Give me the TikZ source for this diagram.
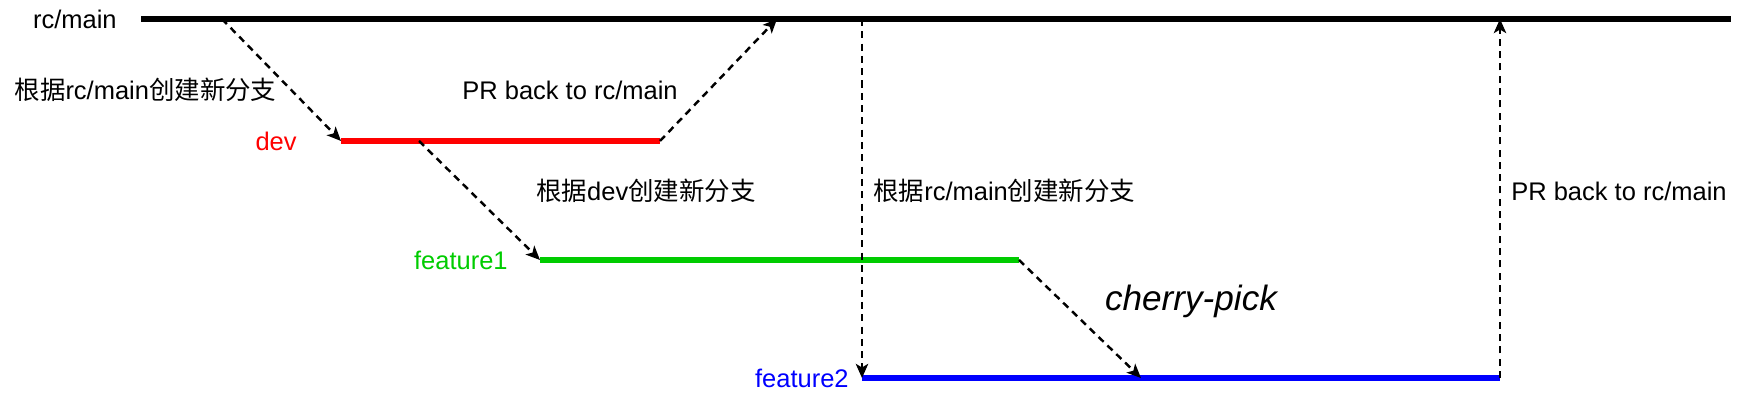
\documentclass[tikz,border=0pt]{standalone}
\usepackage{fontspec}
\setmainfont{Liberation Sans}
\newfontfamily\cjk{Noto Sans CJK SC}
\usetikzlibrary{arrows.meta, positioning}

\tikzset{
  branch/.style={line width=3pt},
  fork/.style={-{Stealth[length=8pt,width=7pt,inset=2pt]}, dash pattern=on 4pt off 3pt, line width=1.4pt},
  lbl/.style={font=\fontsize{14.5}{17}\selectfont, inner sep=0pt},
}

\begin{document}
\begin{tikzpicture}[>=Latex]

  \useasboundingbox (0,0) rectangle (34.8,8);

  % branch ends
  \coordinate (main-a) at (2.82,7.62);
  \coordinate (main-b) at (34.62,7.62);
  \coordinate (dev-a) at (6.82,5.18);
  \coordinate (dev-b) at (13.2,5.18);
  \coordinate (f1-a) at (10.8,2.8);
  \coordinate (f1-b) at (20.38,2.8);
  \coordinate (f2-a) at (17.24,0.44);
  \coordinate (f2-b) at (30.0,0.44);

  % where the arrows start and end
  \coordinate (main-fork1) at (4.44,7.62);
  \coordinate (main-pr1) at (15.54,7.62);
  \coordinate (main-fork2) at (17.24,7.62);
  \coordinate (main-pr2) at (30.0,7.62);
  \coordinate (dev-fork) at (8.38,5.18);
  \coordinate (f2-pick) at (22.82,0.44);

  \draw[branch] (main-a) -- (main-b);
  \draw[branch, red] (dev-a) -- (dev-b);
  \draw[branch, green!80!black] (f1-a) -- (f1-b);
  \draw[branch, blue] (f2-a) -- (f2-b);

  \node[lbl, left=0.48cm of main-a] (main-name) {rc/main};
  \node[lbl, red, left=0.88cm of dev-a] (dev-name) {dev};
  \node[lbl, green!80!black, left=0.64cm of f1-a] (f1-name) {feature1};
  \node[lbl, blue, left=0.26cm of f2-a] (f2-name) {feature2};

  \draw[fork] (main-fork1) -- (dev-a);
  \draw[fork] (dev-b) -- (main-pr1);
  \draw[fork] (dev-fork) -- (f1-a);
  \draw[fork] (main-fork2) -- (f2-a);
  \draw[fork] (f1-b) -- (f2-pick);
  \draw[fork] (f2-b) -- (main-pr2);

  \node[lbl] (fork1-txt) at (2.91,6.2) {{\cjk 根据}rc/main{\cjk 创建新分支}};
  \node[lbl] (pr1-txt) at (11.4,6.2) {PR back to rc/main};
  \node[lbl] (fork-dev-txt) at (12.92,4.18) {{\cjk 根据}dev{\cjk 创建新分支}};
  \node[lbl, anchor=west] (fork2-txt) at (17.46,4.18) {{\cjk 根据}rc/main{\cjk 创建新分支}};
  \node[lbl, font=\fontsize{20}{24}\selectfont\itshape] (pick-txt) at (23.82,1.98) {cherry-pick};
  \node[lbl, anchor=west] (pr2-txt) at (30.22,4.18) {PR back to rc/main};

\end{tikzpicture}
\end{document}
